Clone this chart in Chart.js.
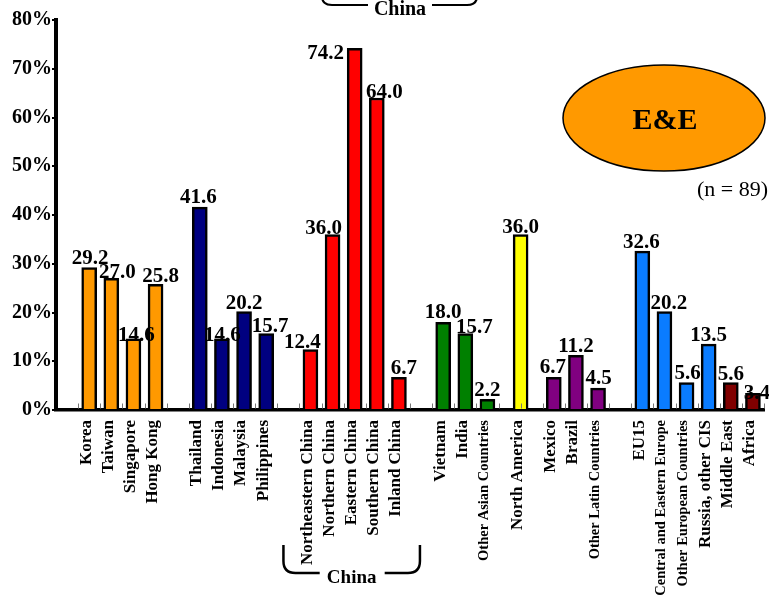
<!DOCTYPE html>
<html>
<head>
<meta charset="utf-8">
<script src="https://cdn.jsdelivr.net/npm/chart.js@4/dist/chart.umd.min.js"></script>
<style>
  html, body { margin: 0; padding: 0; background: #fff; }
  #wrap { width: 769px; height: 595px; position: relative; }
</style>
</head>
<body>
<div id="wrap"><canvas id="c" width="769" height="595"></canvas></div>
<script>
// Share of E&E firms by location (%)
const categories = [
  'Korea', 'Taiwan', 'Singapore', 'Hong Kong',
  'Thailand', 'Indonesia', 'Malaysia', 'Philippines',
  'Northeastern China', 'Northern China', 'Eastern China', 'Southern China', 'Inland China',
  'Vietnam', 'India', 'Other Asian Countries',
  'North America',
  'Mexico', 'Brazil', 'Other Latin Countries',
  'EU15', 'Central and Eastern Europe', 'Other European Countries', 'Russia, other CIS',
  'Middle East', 'Africa'
];
const shares = [
  29.2, 27.0, 14.6, 25.8,
  41.6, 14.6, 20.2, 15.7,
  12.4, 36.0, 74.2, 64.0, 6.7,
  18.0, 15.7, 2.2,
  36.0,
  6.7, 11.2, 4.5,
  32.6, 20.2, 5.6, 13.5,
  5.6, 3.4
];
// region group of each category (drives colour and spacing)
const regionOf = [0,0,0,0, 1,1,1,1, 2,2,2,2,2, 3,3,3, 4, 5,5,5, 6,6,6,6, 7,7];
const yTicks = [0, 10, 20, 30, 40, 50, 60, 70, 80];

// ---- styling ----
const regionColors = ['#FF9900', '#000080', '#FF0000', '#008000', '#FFFF00', '#800080', '#0A7CFF', '#800000'];
const regionGap = [0, 1, 1, 1, 0.5, 0.5, 1, 0];   // extra space before each region
const labelNudge = [
  [1,-1],[6,3],[3,5.6],[5,1],
  [-1.5,-1],[0.5,5.5],[0,0],[4,2],
  [-8,1],[-9,2],[-29,14],[7.5,3],[5,0],
  [0,-1],[9,2.5],[0,0],
  [0,1.5],
  [-1,-1],[0,0],[0.5,-1],
  [-1,0],[4.5,0],[1,-1],[0,0],
  [0,0],[4,9]
];
const SERIF = '"Liberation Serif", "Times New Roman", serif';

// slot position of each bar along the category axis
const slots = [];
categories.forEach((c, i) => {
  if (i === 0) { slots.push(0); return; }
  const step = 1 + (regionOf[i] !== regionOf[i - 1] ? regionGap[regionOf[i]] : 0);
  slots.push(slots[i - 1] + step);
});

const valueLabels = {
  id: 'valueLabels',
  afterDatasetsDraw(chart) {
    const ctx = chart.ctx;
    const meta = chart.getDatasetMeta(0);
    ctx.save();
    ctx.font = 'bold 21px ' + SERIF;
    ctx.fillStyle = '#000';
    ctx.textAlign = 'center';
    ctx.textBaseline = 'alphabetic';
    meta.data.forEach((el, i) => {
      const [dx, dy] = labelNudge[i];
      ctx.fillText(shares[i].toFixed(1), el.x + dx, el.y - 3 + dy);
    });
    ctx.restore();
  }
};

// small inward tick marks at the slot boundaries
const slotTicks = {
  id: 'slotTicks',
  afterDraw(chart) {
    const xs = chart.scales.x, ctx = chart.ctx;
    const y0 = chart.chartArea.bottom - 1.5;
    ctx.save();
    ctx.strokeStyle = '#777';
    ctx.lineWidth = 1;
    for (let k = 0; k <= 31; k++) {
      const x = Math.round(xs.getPixelForValue(k - 0.5)) + 0.5;
      ctx.beginPath();
      ctx.moveTo(x, y0);
      ctx.lineTo(x, y0 - 5);
      ctx.stroke();
    }
    ctx.restore();
  }
};

const decorations = {
  id: 'decorations',
  afterDraw(chart) {
    const ctx = chart.ctx;
    const xs = chart.scales.x;
    ctx.save();
    ctx.strokeStyle = '#000';
    ctx.fillStyle = '#000';

    // bracket at the top edge
    ctx.lineWidth = 2.2;
    ctx.beginPath();
    ctx.moveTo(322, -4); ctx.quadraticCurveTo(322, 5, 332, 5); ctx.lineTo(368, 5);
    ctx.moveTo(432, 5); ctx.lineTo(467, 5); ctx.quadraticCurveTo(477, 5, 477, -4);
    ctx.stroke();
    ctx.font = 'bold 20px ' + SERIF;
    ctx.textAlign = 'center';
    ctx.textBaseline = 'alphabetic';
    ctx.fillText('China', 400, 15);

    // bracket under the China regions
    const l = xs.getPixelForValue(slots[8]) - 27;
    const r = xs.getPixelForValue(slots[12]) + 21;
    const mid = (l + r) / 2;
    ctx.lineWidth = 2.5;
    ctx.beginPath();
    ctx.moveTo(l, 545); ctx.lineTo(l, 561); ctx.quadraticCurveTo(l, 573, l + 12, 573); ctx.lineTo(mid - 32, 573);
    ctx.moveTo(mid + 33, 573); ctx.lineTo(r - 12, 573); ctx.quadraticCurveTo(r, 573, r, 561); ctx.lineTo(r, 545);
    ctx.stroke();
    ctx.font = 'bold 19px ' + SERIF;
    ctx.fillText('China', mid, 583);

    // sector badge
    ctx.beginPath();
    ctx.ellipse(664, 118, 101, 53, 0, 0, Math.PI * 2);
    ctx.fillStyle = '#FF9900';
    ctx.fill();
    ctx.lineWidth = 1.5;
    ctx.stroke();
    ctx.fillStyle = '#000';
    ctx.font = 'bold 30px ' + SERIF;
    ctx.textBaseline = 'middle';
    ctx.fillText('E&E', 665, 121);
    ctx.font = '22px ' + SERIF;
    ctx.textAlign = 'right';
    ctx.textBaseline = 'alphabetic';
    ctx.fillText('(n = 89)', 768, 196);
    ctx.restore();
  }
};

new Chart(document.getElementById('c'), {
  type: 'bar',
  data: {
    datasets: [{
      data: slots.map((x, i) => ({ x: x, y: shares[i] })),
      backgroundColor: regionOf.map(g => regionColors[g]),
      borderColor: '#000',
      borderWidth: 2.5,
      borderSkipped: 'start',
      barThickness: 15
    }]
  },
  options: {
    responsive: false,
    animation: false,
    layout: { padding: { top: 20, right: 5, left: 0, bottom: 0 } },
    plugins: { legend: { display: false }, tooltip: { enabled: false } },
    scales: {
      x: {
        type: 'linear',
        min: -1.5,
        max: 30.5,
        offset: false,
        grid: { display: false, drawTicks: false },
        border: { display: true, color: '#000', width: 3.5 },
        afterBuildTicks: s => { s.ticks = slots.map(v => ({ value: v })); },
        afterFit: s => { s.height = 185; s.paddingLeft = 0; s.paddingRight = 0; },
        ticks: {
          autoSkip: false,
          minRotation: 90,
          maxRotation: 90,
          padding: 10,
          labelOffset: -3,
          color: '#000',
          font: c => ({ family: SERIF, weight: 'bold', size: categories[c.index] && categories[c.index].length > 20 ? 14.5 : 17 }),
          callback: (v, i) => categories[i]
        }
      },
      y: {
        min: 0,
        max: 80,
        afterBuildTicks: s => { s.ticks = yTicks.map(v => ({ value: v })); },
        afterFit: s => { s.width = 56; },
        grid: { drawOnChartArea: false, drawTicks: true, tickLength: 4, color: '#000', lineWidth: 2 },
        border: { display: true, color: '#000', width: 4 },
        ticks: {
          padding: 0,
          color: '#000',
          font: { family: SERIF, weight: 'bold', size: 20 },
          callback: v => v + '%'
        }
      }
    }
  },
  plugins: [valueLabels, slotTicks, decorations]
});
</script>
</body>
</html>
